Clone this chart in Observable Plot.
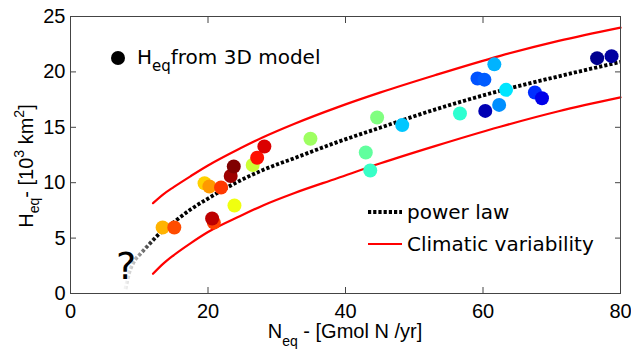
<!DOCTYPE html>
<html><head><meta charset="utf-8">
<script src="https://cdn.jsdelivr.net/npm/d3@7"></script>
<script src="https://cdn.jsdelivr.net/npm/@observablehq/plot@0.6"></script>
<style>body{margin:0;background:#fff} svg text{white-space:pre}</style>
</head><body><div id="chart"></div>
<script>
// ---- data ----
const ptN = [13.4, 15.1, 19.5, 20.2, 21.9, 20.85, 20.6, 23.85, 23.3, 23.75, 26.5, 27.15, 28.2, 34.9,
             44.6, 42.95, 43.6, 48.25, 56.65, 59.2, 60.2, 61.65, 63.35, 62.35, 60.33, 67.55, 68.58, 76.6, 78.7];
const ptH = [5.96, 5.96, 9.95, 9.66, 9.57, 6.4, 6.77, 7.94, 10.6, 11.46, 11.6, 12.25, 13.27, 13.96,
             15.88, 12.72, 11.1, 15.2, 16.25, 19.4, 19.3, 20.68, 18.38, 17.02, 16.48, 18.14, 17.62, 21.24, 21.42];
const ptC = [0.70, 0.80, 0.67, 0.725, 0.82, 0.81, 0.94, 0.61, 0.97, 1.0, 0.575, 0.86, 0.91, 0.53,
             0.50, 0.47, 0.43, 0.32, 0.42, 0.205, 0.215, 0.30, 0.35, 0.265, 0.04, 0.17, 0.10, 0.0, 0.02];

const powerX = [8.0, 8.5, 9.2, 10.2, 11.6, 13.1, 15, 17.5, 20, 24.7, 28, 32.5, 38.8, 45.1, 53, 62.5, 71, 80];
const powerY = [0.4, 1.8, 2.85, 3.6, 4.55, 5.5, 6.43, 7.6, 8.57, 10.2, 11.15, 12.2, 13.66, 14.98, 16.6, 18.3, 19.6, 20.9];

const bandX  = [12, 13.5, 15, 17.5, 20, 24.7, 28, 32.5, 38.8, 45.1, 53, 62.5, 71, 80];
const upperY = [8.15, 8.95, 9.6, 10.6, 11.55, 13.1, 14.1, 15.3, 16.8, 18.15, 19.7, 21.45, 22.8, 24.0];
const lowerY = [1.78, 2.7, 3.45, 4.55, 5.55, 7.0, 7.95, 9.05, 10.4, 11.75, 13.3, 15.05, 16.45, 17.7];

const xTicks = [0, 20, 40, 60, 80];
const yTicks = [0, 5, 10, 15, 20, 25];
const annotX = [8.1], annotY = [2.45], annotText = ["?"];

const jetStops = [0, 0.125, 0.375, 0.625, 0.875, 1];
const jetColors = ["#00008f", "#0000ff", "#00ffff", "#ffff00", "#ff0000", "#800000"];

const idx = ptN.map((_, i) => i);
const axisCol = "#444";
const blank = () => "";
const dash = "3.2,2";
const dotW = 3.8;

const chart = Plot.plot({
  width: 631, height: 351,
  marginLeft: 70, marginRight: 11, marginTop: 16, marginBottom: 58,
  x: {domain: [0, 80]},
  y: {domain: [0, 25]},
  color: {type: "linear", domain: jetStops, range: jetColors},
  style: {fontFamily: "'Liberation Sans', Arial, sans-serif", fontSize: "20px", color: "#000", background: "#fff"},
  marks: [
    Plot.line(bandX, {x: bandX, y: upperY, stroke: "#ff0000", strokeWidth: 2.2, curve: "monotone-x"}),
    Plot.line(bandX, {x: bandX, y: lowerY, stroke: "#ff0000", strokeWidth: 2.2, curve: "monotone-x"}),
    Plot.line(powerX, {x: powerX, y: powerY, stroke: "url(#fadeGrad)", strokeWidth: dotW, strokeDasharray: dash,
      strokeLinecap: "butt", strokeLinejoin: "miter", curve: "monotone-x"}),
    Plot.dot(idx, {x: i => ptN[i], y: i => ptH[i], fill: i => ptC[i], r: 7}),
    Plot.text(annotText.map((_, i) => i), {x: i => annotX[i], y: i => annotY[i], text: i => annotText[i],
      fontSize: 38, fontFamily: "'DejaVu Sans', sans-serif", fill: "#000"}),
    Plot.frame({stroke: axisCol}),
    Plot.axisX(xTicks, {anchor: "bottom", tickSize: 6, dy: -6, tickFormat: blank, label: null, stroke: axisCol}),
    Plot.axisX(xTicks, {anchor: "top", tickSize: 6, dy: 6, tickFormat: blank, label: null, stroke: axisCol}),
    Plot.axisY(yTicks, {anchor: "left", tickSize: 6, dx: 6, tickFormat: blank, label: null, stroke: axisCol}),
    Plot.axisY(yTicks, {anchor: "right", tickSize: 6, dx: -6, tickFormat: blank, label: null, stroke: axisCol}),
    Plot.axisX(xTicks, {anchor: "bottom", tickSize: 0, tickPadding: 10, label: null, fontSize: 20}),
    Plot.axisY(yTicks, {anchor: "left", tickSize: 0, tickPadding: 5, label: null, fontSize: 20})
  ]
});
document.getElementById("chart").appendChild(chart);

// ---- decorations: gradient fade, rich-text labels, legends ----
const svg = d3.select(chart);
const grad = svg.append("defs").append("linearGradient").attr("id", "fadeGrad")
  .attr("x1", 0).attr("x2", 1).attr("y1", 0).attr("y2", 0);
const span = d3.max(powerX) - d3.min(powerX);
[[0, "#f2f2f2"], [(9.3 - 8) / span, "#bbbbbb"], [(10.8 - 8) / span, "#666666"], [(12.5 - 8) / span, "#000000"], [1, "#000000"]]
  .forEach(([o, c]) => grad.append("stop").attr("offset", o).attr("stop-color", c));

function richText(t, parts, size, small, subShift, supShift) {
  let shift = 0;
  for (const [s, m] of parts) {
    const target = m === "sub" ? subShift : m === "sup" ? supShift : 0;
    t.append("tspan").attr("dy", target - shift).attr("font-size", m ? small : size).text(s);
    shift = target;
  }
}

// y label
const yl = svg.append("text").attr("transform", "translate(33,166) rotate(-90)")
  .attr("text-anchor", "middle").attr("font-family", "'Liberation Sans', Arial, sans-serif").attr("fill", "#000");
richText(yl, [["H", ""], ["eq", "sub"], ["- [10", ""], ["3", "sup"], [" km", ""], ["2", "sup"], ["]", ""]], 20, 14, 6, -9);

// x label
const xl = svg.append("text").attr("x", 345).attr("y", 338)
  .attr("text-anchor", "middle").attr("font-family", "'Liberation Sans', Arial, sans-serif").attr("fill", "#000");
richText(xl, [["N", ""], ["eq", "sub"], [" - [Gmol N /yr]", ""]], 20, 14, 8, 0);

// top-left legend
svg.append("circle").attr("cx", 118).attr("cy", 58).attr("r", 7).attr("fill", "#000");
const lg1 = svg.append("text").attr("x", 137).attr("y", 64).attr("text-anchor", "start")
  .attr("font-family", "'DejaVu Sans', sans-serif").attr("fill", "#000");
richText(lg1, [["H", ""], ["eq", "sub"], ["from 3D model", ""]], 20, 15, 7, 0);

// bottom-right legend
svg.append("line").attr("x1", 368).attr("x2", 402).attr("y1", 212).attr("y2", 212)
  .attr("stroke", "#000").attr("stroke-width", dotW).attr("stroke-dasharray", dash);
svg.append("text").attr("x", 407).attr("y", 219).attr("text-anchor", "start").attr("font-family", "'DejaVu Sans', sans-serif")
  .attr("font-size", 20).attr("fill", "#000").text("power law");
svg.append("line").attr("x1", 368).attr("x2", 402).attr("y1", 244).attr("y2", 244)
  .attr("stroke", "#ff0000").attr("stroke-width", 2.2);
svg.append("text").attr("x", 407).attr("y", 251).attr("text-anchor", "start").attr("font-family", "'DejaVu Sans', sans-serif")
  .attr("font-size", 20).attr("fill", "#000").text("Climatic variability");
</script>
</body></html>
